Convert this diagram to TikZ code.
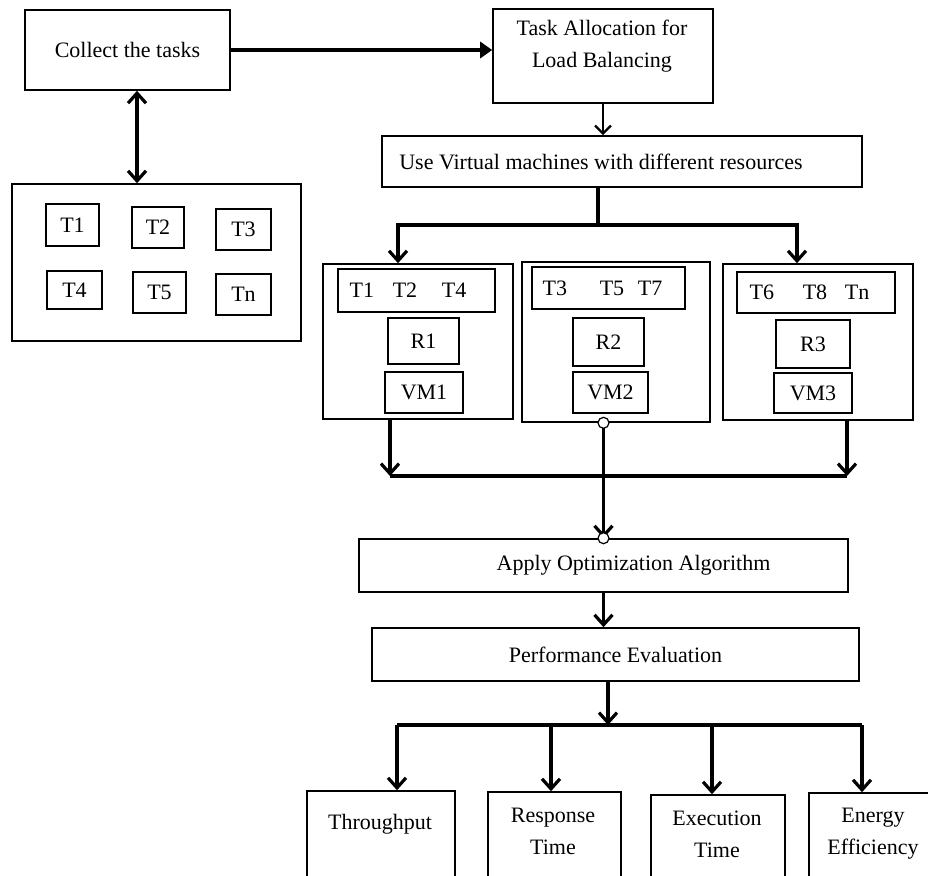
\documentclass[tikz,border=0pt]{standalone}
\usepackage{fontspec}
\setmainfont{Liberation Serif}
\usetikzlibrary{arrows.meta, positioning}

\tikzset{
    box/.style={draw, line width=0.8pt, inner sep=0pt},
    tbox/.style={box, line width=1pt},
    sz/.style 2 args={minimum width=#1*0.5pt, minimum height=#2*0.5pt},
    link/.style={line width=1.6pt},
    barb/.tip={Straight Barb[length=5pt, width=9pt]},
    arr/.style={link, -barb},
    hole/.style={circle, draw, fill=white, line width=0.6pt, minimum size=5.5pt, inner sep=0pt},
}

\begin{document}
\begin{tikzpicture}[x=0.5pt, y=-0.5pt, font=\fontsize{11}{16}\selectfont]
    \useasboundingbox (0,0) rectangle (928,875);
    \clip (0,0) rectangle (928,875);
    % collecting the tasks
    \node[box, sz={205}{80}] (collect) at (127.5,50) {Collect the tasks};
    \node[box, sz={289}{157}] (pool) at (156.5,262.5) {};
    \node[tbox, sz={53}{42}] (t1) at (72.5,225) {T1};
    \node[tbox, sz={52}{41}] (t2) at (158,227.5) {T2};
    \node[tbox, sz={55}{41}] (t3) at (243.5,229.5) {T3};
    \node[tbox, sz={55}{38}] (t4) at (74.5,290) {T4};
    \node[tbox, sz={53}{41}] (t5) at (159.5,292.5) {T5};
    \node[tbox, sz={55}{41}] (tn) at (243.5,294.5) {Tn};
    \draw[link, barb-barb]
        ([xshift=4.75pt]collect.south) -- ([xshift=4.75pt]collect.south |- pool.north);

    % allocation
    \node[box, sz={220}{94}] (alloc) at (603,56) {};
    \node[align=center] (allocT) at (602,46.5) {Task Allocation for\\Load Balancing};
    \draw[link, -{Triangle[length=6pt, width=8pt]}] (collect.east) -- (collect.east -| alloc.west);
    \node[box, sz={480}{51}] (uvm) at (622,161.5) {Use Virtual machines with different resources\hspace*{21pt}};
    \draw[link, line width=1.2pt, -{Straight Barb[length=4pt, width=8pt]}] (alloc.south) -- (alloc.south |- uvm.north);

    % virtual machines
    \node[box, sz={190}{155}] (g1) at (418,341.5) {};
    \node[box, sz={188}{160}] (g2) at (616,342) {};
    \node[box, sz={190}{156}] (g3) at (818,342) {};
    \node[box, sz={157}{43}] (q1) at (416.5,290.5) {T1\hspace{9.3pt}T2\hspace{12.3pt}T4\hspace*{8.5pt}};
    \node[box, sz={153}{42}] (q2) at (608.5,288) {T3\hspace{16.3pt}T5\hspace{6.8pt}T7\hspace*{6pt}};
    \node[box, sz={158}{41}] (q3) at (816,292.5) {T6\hspace{14.3pt}T8\hspace{8.8pt}Tn\hspace*{6.5pt}};
    \node[box, sz={71}{46}] (r1) at (423.5,341) {R1};
    \node[box, sz={78}{41}] (vm1) at (424,392.5) {VM1};
    \node[box, sz={71}{48}] (r2) at (608.5,342) {R2};
    \node[box, sz={75}{41}] (vm2) at (610.5,392.5) {VM2};
    \node[box, sz={74}{48}] (r3) at (813,344) {R3};
    \node[box, sz={78}{40}] (vm3) at (813,393) {VM3};

    \coordinate (split) at (598,225);
    \coordinate (inL) at (398,225);
    \coordinate (inR) at (797,225);
    \draw[link] (uvm.south -| split) -- (split);
    \draw[link, barb-barb]
        (inL |- g1.north) -- (inL) -- (inR) -- (inR |- g3.north);

    % gathering the results
    \node[box, sz={489}{53}] (apply) at (603.5,565.5) {\hspace*{30pt}Apply Optimization Algorithm};
    \coordinate (busL) at (390,476);
    \coordinate (busR) at (847,476);
    \draw[arr] (g1.south -| busL) -- (busL);
    \draw[arr] (g3.south -| busR) -- (busR);
    \draw[link] (busL) -- (busR);
    \draw[arr] (apply.north |- g2.south) -- (apply.north);
    \node[hole] (h1) at (apply.north |- g2.south) {};
    \node[hole] (h2) at (apply.north) {};

    \node[box, sz={487}{53}] (perf) at (615.5,654.5) {Performance Evaluation};
    \draw[arr] (apply.south) -- (apply.south |- perf.north);

    % measures
    \node[box, sz={148}{89}] (thr) at (381,835.5) {};
    \node[box, sz={133}{88}] (resp) at (554.5,836) {};
    \node[box, sz={134}{85}] (exec) at (718,837.5) {};
    \node[box, sz={131}{87}] (energy) at (874.5,836.5) {};
    \node (thrT) at (380,824) {Throughput};
    \node[align=center] (respT) at (553,831) {Response\\Time};
    \node[align=center] (execT) at (717,834) {Execution\\Time};
    \node[align=center] (energyT) at (873,834) {Energy\\Efficiency};

    \coordinate (fan) at (608,725);
    \coordinate (d1) at (397,725);
    \coordinate (d2) at (551,725);
    \coordinate (d3) at (712,725);
    \coordinate (d4) at (862,725);
    \draw[arr] (perf.south -| fan) -- (fan);
    \draw[link] (d1) -- (d4);
    \draw[arr] (d1) -- (d1 |- thr.north);
    \draw[arr] (d2) -- (d2 |- resp.north);
    \draw[arr] (d3) -- (d3 |- exec.north);
    \draw[arr] (d4) -- (d4 |- energy.north);
\end{tikzpicture}
\end{document}
